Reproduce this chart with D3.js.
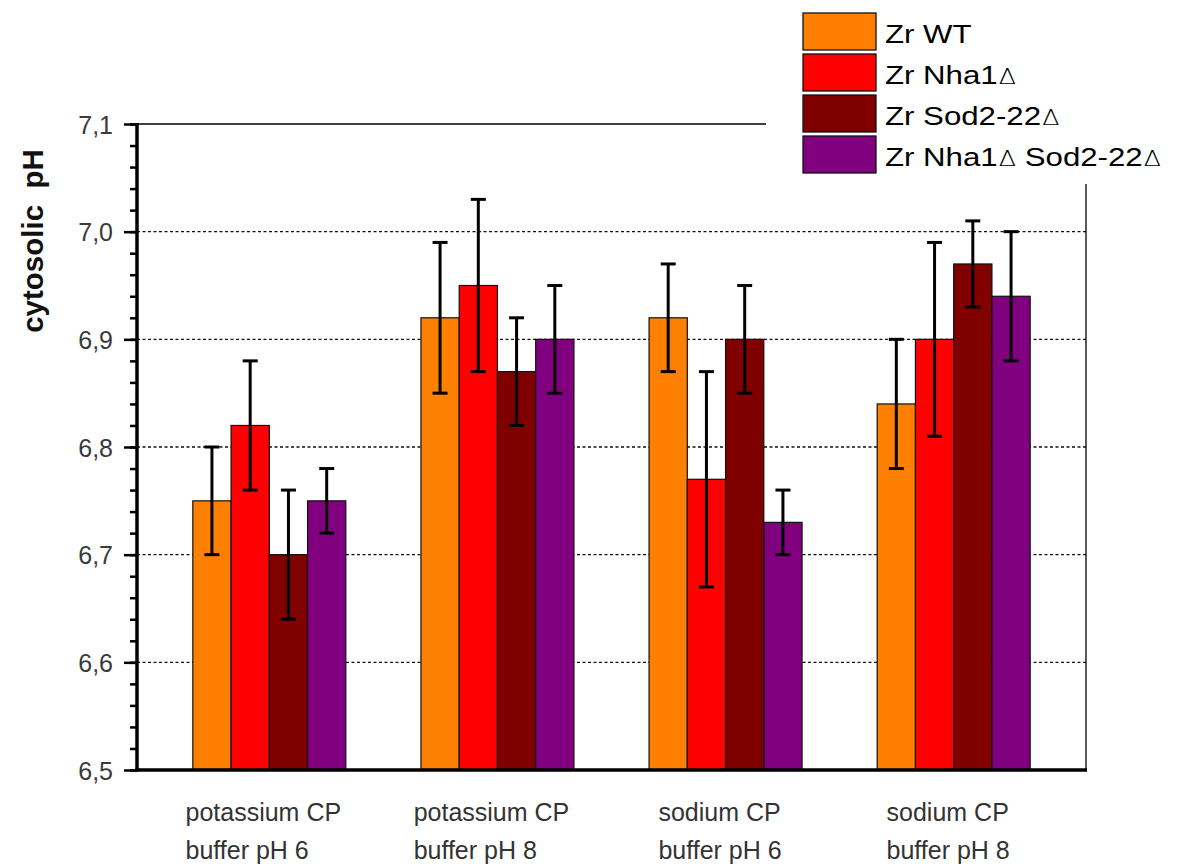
<!DOCTYPE html>
<html>
<head>
<meta charset="utf-8">
<script src="https://cdn.jsdelivr.net/npm/d3@7/dist/d3.min.js"></script>
<style>
  html, body { margin: 0; padding: 0; background: #fff; }
  svg { display: block; }
  text { font-family: "Liberation Sans", Arial, sans-serif; }
</style>
</head>
<body>
<svg id="chart" width="1179" height="868"></svg>
<script>
// Buffer conditions (two-line category labels)
const categories = [
  ["potassium CP", "buffer pH 6"],
  ["potassium CP", "buffer pH 8"],
  ["sodium CP", "buffer pH 6"],
  ["sodium CP", "buffer pH 8"]
];

// Strains
const strains = ["Zr WT", "Zr Nha1Δ", "Zr Sod2-22Δ", "Zr Nha1Δ Sod2-22Δ"];
const strainColors = ["#ff8000", "#ff0000", "#800000", "#800080"];

// Mean cytosolic pH per strain, one entry per buffer condition
const meanWT       = [6.75, 6.92, 6.92, 6.84];
const meanNha1     = [6.82, 6.95, 6.77, 6.90];
const meanSod2     = [6.70, 6.87, 6.90, 6.97];
const meanDouble   = [6.75, 6.90, 6.73, 6.94];

// Standard deviations
const errWT        = [0.05, 0.07, 0.05, 0.06];
const errNha1      = [0.06, 0.08, 0.10, 0.09];
const errSod2      = [0.06, 0.05, 0.05, 0.04];
const errDouble    = [0.03, 0.05, 0.03, 0.06];

const yTicks = [6.5, 6.6, 6.7, 6.8, 6.9, 7.0, 7.1];

const means = [meanWT, meanNha1, meanSod2, meanDouble];
const errs  = [errWT, errNha1, errSod2, errDouble];

const rows = [];
categories.forEach((c, ci) => {
  strains.forEach((s, si) => {
    rows.push({ ci, si, v: means[si][ci], e: errs[si][ci] });
  });
});

const svg = d3.select("#chart");
const plotLeft = 137, plotRight = 1086, plotTop = 124, plotBottom = 770;

const y = d3.scaleLinear().domain([6.5, 7.1]).range([plotBottom, plotTop]);
const x0 = d3.scalePoint().domain(d3.range(categories.length)).range([plotLeft, plotRight]).padding(0.58);
const groupW = 153;
const x1 = d3.scaleBand().domain(d3.range(strains.length)).range([-groupW / 2, groupW / 2]).padding(0);

// Horizontal dotted grid
svg.append("g")
  .selectAll("line")
  .data(yTicks.filter(t => t > 6.5 && t < 7.1))
  .join("line")
  .attr("x1", plotLeft).attr("x2", plotRight)
  .attr("y1", d => y(d)).attr("y2", d => y(d))
  .attr("stroke", "#111")
  .attr("stroke-width", 1.3)
  .attr("stroke-dasharray", "3,2.5");

// Frame: top and right
svg.append("line").attr("x1", plotLeft).attr("x2", plotRight).attr("y1", plotTop).attr("y2", plotTop)
  .attr("stroke", "#000").attr("stroke-width", 1.3);
svg.append("line").attr("x1", plotRight).attr("x2", plotRight).attr("y1", plotTop).attr("y2", plotBottom)
  .attr("stroke", "#000").attr("stroke-width", 1.3);

// Bars
const bars = svg.append("g");
bars.selectAll("rect")
  .data(rows)
  .join("rect")
  .attr("x", d => x0(d.ci) + x1(d.si))
  .attr("width", x1.bandwidth())
  .attr("y", d => y(d.v))
  .attr("height", d => plotBottom - y(d.v))
  .attr("fill", d => strainColors[d.si])
  .attr("stroke", "#111")
  .attr("stroke-width", 1.2);

// Error bars
const eb = svg.append("g").attr("stroke", "#000").attr("stroke-width", 3);
const cx = d => x0(d.ci) + x1(d.si) + x1.bandwidth() / 2;
eb.selectAll("line.v").data(rows).join("line").attr("class", "v")
  .attr("x1", cx).attr("x2", cx)
  .attr("y1", d => y(d.v + d.e)).attr("y2", d => y(d.v - d.e));
eb.selectAll("line.hi").data(rows).join("line").attr("class", "hi")
  .attr("x1", d => cx(d) - 7.5).attr("x2", d => cx(d) + 7.5)
  .attr("y1", d => y(d.v + d.e)).attr("y2", d => y(d.v + d.e));
eb.selectAll("line.lo").data(rows).join("line").attr("class", "lo")
  .attr("x1", d => cx(d) - 7.5).attr("x2", d => cx(d) + 7.5)
  .attr("y1", d => y(d.v - d.e)).attr("y2", d => y(d.v - d.e));

// Y axis with minor ticks
const yMinor = d3.range(6.5, 7.1001, 0.02);
const yAxisMinor = d3.axisLeft(y).tickValues(yMinor).tickSize(7).tickFormat("");
svg.append("g").attr("transform", `translate(${plotLeft},0)`).call(yAxisMinor)
  .call(g => g.select(".domain").remove())
  .call(g => g.selectAll("line").attr("stroke", "#000").attr("stroke-width", 2.5));

const fmt = d => d3.format(".1f")(d).replace(".", ",");
const yAxis = d3.axisLeft(y).tickValues(yTicks).tickSize(13).tickPadding(11).tickFormat(fmt);
svg.append("g").attr("transform", `translate(${plotLeft},0)`).call(yAxis)
  .call(g => g.select(".domain").remove())
  .call(g => g.selectAll("line").attr("stroke", "#000").attr("stroke-width", 2.5))
  .call(g => g.selectAll("text")
    .attr("font-size", 25)
    .attr("fill", "#3a3a3a")
    .attr("dy", "0.36em")
    .style("font-family", "'Liberation Sans', Arial, sans-serif"));

// Axis lines
svg.append("line").attr("x1", plotLeft).attr("x2", plotLeft).attr("y1", plotTop - 1).attr("y2", plotBottom + 1.5)
  .attr("stroke", "#000").attr("stroke-width", 3.5);
svg.append("line").attr("x1", plotLeft - 1.5).attr("x2", plotRight + 1).attr("y1", plotBottom).attr("y2", plotBottom)
  .attr("stroke", "#000").attr("stroke-width", 3.5);

// Category labels (two lines, left-aligned within a centred block)
const catG = svg.append("g");
categories.forEach((lines, ci) => {
  const t = catG.append("text")
    .attr("font-size", 25)
    .attr("fill", "#333")
    .attr("y", 821);
  const first = t.append("tspan").text(lines[0]);
  const w = first.node().getComputedTextLength();
  const xs = x0(ci) - w / 2 - 6;
  t.attr("x", xs);
  first.attr("x", xs);
  t.append("tspan").attr("x", xs).attr("dy", 38).text(lines[1]);
});

// Y axis title
svg.append("text")
  .attr("transform", "translate(43,241) rotate(-90)")
  .attr("text-anchor", "middle")
  .attr("font-size", 29.5)
  .attr("font-weight", "bold")
  .attr("fill", "#111")
  .style("white-space", "pre")
  .text("cytosolic  pH");

// Legend, on an opaque panel over the top-right of the frame
svg.append("rect").attr("x", 766).attr("y", 0).attr("width", 413).attr("height", 184).attr("fill", "#fff");
const lg = svg.append("g").attr("transform", "translate(803,13)");
const item = lg.selectAll("g").data(strains).join("g")
  .attr("transform", (d, i) => `translate(0,${i * 41})`);
item.append("rect")
  .attr("width", 73).attr("height", 37)
  .attr("fill", (d, i) => strainColors[i])
  .attr("stroke", "#111").attr("stroke-width", 1.3);
item.append("text")
  .attr("transform", "translate(82,30) scale(1.2,1)")
  .attr("font-size", 26)
  .attr("fill", "#000")
  .each(function (d) {
    const t = d3.select(this);
    d.split(/(Δ)/).filter(s => s.length).forEach(part => {
      if (part === "Δ") {
        t.append("tspan").attr("font-size", 21).attr("dx", 1)
          .attr("font-family", "'DejaVu Sans', sans-serif")
          .attr("font-weight", 200).text("Δ");
      } else {
        t.append("tspan").text(part);
      }
    });
  });
</script>
</body>
</html>
